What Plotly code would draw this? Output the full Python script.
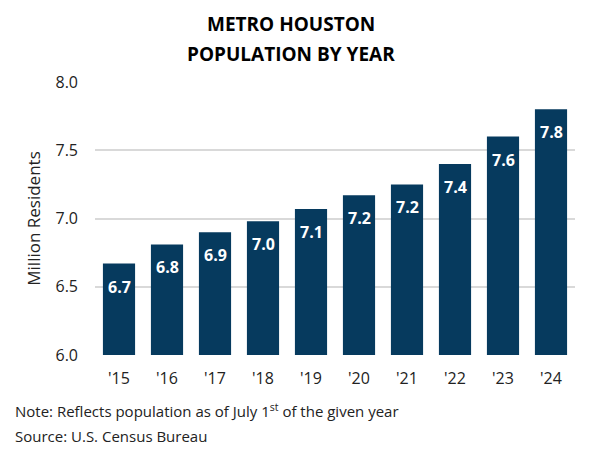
import plotly.graph_objects as go

years = ["'15", "'16", "'17", "'18", "'19", "'20", "'21", "'22", "'23", "'24"]
population = [6.67, 6.81, 6.90, 6.98, 7.07, 7.17, 7.25, 7.40, 7.60, 7.80]
labels = [f"{v:.1f}" for v in population]

FONT = "Open Sans"
TEXT = "#222222"

fig = go.Figure()
fig.add_trace(go.Bar(
    x=years,
    y=population,
    marker=dict(color="#063a5e", line=dict(width=0)),
    hoverinfo="x+y",
))

# value labels just under the top of each bar
for yr, val, lab in zip(years, population, labels):
    fig.add_annotation(
        x=yr, y=val, text=f"<b>{lab}</b>", showarrow=False,
        yanchor="middle", yshift=-23,
        font=dict(family=FONT, size=16, color="white"),
    )

# title lines (pixel positions converted to paper coords of the 273px-high plot)
fig.add_annotation(text="<b>METRO HOUSTON</b>", xref="paper", yref="paper",
                   x=0.408, y=(355 - 23.5) / 273, xanchor="center", yanchor="middle",
                   showarrow=False, font=dict(family=FONT, size=19, color="black"))
fig.add_annotation(text="<b>POPULATION BY YEAR</b>", xref="paper", yref="paper",
                   x=0.408, y=(355 - 54.5) / 273, xanchor="center", yanchor="middle",
                   showarrow=False, font=dict(family=FONT, size=19, color="black"))

fig.add_annotation(text="Note: Reflects population as of July 1<sup>st</sup> of the given year",
                   xref="paper", yref="paper", x=-0.17, y=-0.205,
                   xanchor="left", yanchor="middle", showarrow=False,
                   font=dict(family=FONT, size=15, color=TEXT))
fig.add_annotation(text="Source: U.S. Census Bureau",
                   xref="paper", yref="paper", x=-0.17, y=-0.297,
                   xanchor="left", yanchor="middle", showarrow=False,
                   font=dict(family=FONT, size=15, color=TEXT))

fig.update_layout(
    width=593, height=456,
    margin=dict(l=95, r=18, t=82, b=101),
    paper_bgcolor="white", plot_bgcolor="white",
    showlegend=False,
    bargap=0.33,
    font=dict(family=FONT, color=TEXT),
    xaxis=dict(
        showline=False, ticks="", ticklabelstandoff=12,
        tickfont=dict(size=16, color=TEXT),
    ),
    yaxis=dict(
        range=[6.0, 8.0], dtick=0.5, tickformat=".1f",
        showgrid=True, gridcolor="#d9d9d9", gridwidth=1.5,
        zeroline=False, ticks="", ticklabelstandoff=16,
        tickfont=dict(size=16, color=TEXT),
        title=dict(text="Million Residents", font=dict(size=17, color=TEXT), standoff=10),
    ),
)

fig.write_html("out.html", config={"displayModeBar": False},
               post_script="document.body.style.margin='0px';")
